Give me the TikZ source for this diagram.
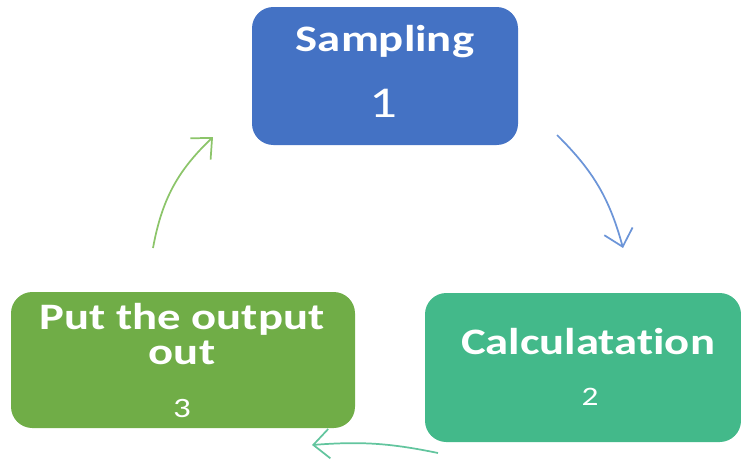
\documentclass[tikz,border=0pt]{standalone}
\usepackage{fontspec}
\setmainfont{Carlito}
\newfontfamily\headfont[FakeStretch=1.25, RawFeature={-liga;-clig;-calt}]{Carlito}
\usepackage{tikz}
\usetikzlibrary{arrows.meta}

\definecolor{sampblue}{HTML}{4472C4}
\definecolor{calcgreen}{HTML}{43B98A}
\definecolor{putgreen}{HTML}{70AD47}
\definecolor{bluearrow}{HTML}{6C95D8}
\definecolor{greenarrow}{HTML}{8CC56A}
\definecolor{tealarrow}{HTML}{62C59E}

\begin{document}
\begin{tikzpicture}
  [
    x = 0.75pt, y = -0.75pt,
    >= {Straight Barb[length=12pt, width=22pt]},
    stage/.style = {rectangle, rounded corners = 16pt, inner sep = 0pt},
    title/.style = {text = white, align = center,
                    font = \headfont\bfseries\fontsize{28}{26}\selectfont},
    num/.style   = {text = white, font = \headfont},
    flow/.style  = {->, line width = 1.3pt},
  ]

  % fixes the page: same size as the reference
  \useasboundingbox (0,0) rectangle (741,461);

  % the three stages: just rounded boxes
  \node (samp) at (385,76) [stage, fill = sampblue,
        minimum width = 199.5pt, minimum height = 103.5pt] {};
  \node (calc) at (583,367.5) [stage, fill = calcgreen,
        minimum width = 237pt, minimum height = 111.75pt] {};
  \node (put) at (183,360) [stage, fill = putgreen,
        minimum width = 258pt, minimum height = 102pt] {};

  % texts in the boxes
  \node (sampt) at (385,42) [title] {Sampling};
  \node (sampn) at (383,103) [num] {\fontsize{33}{33}\selectfont 1};
  \node (calct) at (588,342) [title] {Calculatation};
  \node (calcn) at (590,397) [num] {\fontsize{20}{20}\selectfont 2};
  \node (putt) at (182,334) [title] {Put the output\\out};
  \node (putn) at (182,408) [num] {\fontsize{21}{21}\selectfont 3};

  % ends of the arrows: they stop short of the boxes
  \coordinate (a1) at (557,135);
  \coordinate (b1) at (623,248);
  \coordinate (a2) at (438,453);
  \coordinate (b2) at (312,445);
  \coordinate (a3) at (153,248);
  \coordinate (b3) at (213,137);

  % the cycle
  \draw[flow, bluearrow]  (a1) to[bend left=15] (b1);
  \draw[flow, tealarrow]  (a2) to[bend right=8] (b2);
  \draw[flow, greenarrow] (a3) to[bend left=18] (b3);
\end{tikzpicture}
\end{document}
